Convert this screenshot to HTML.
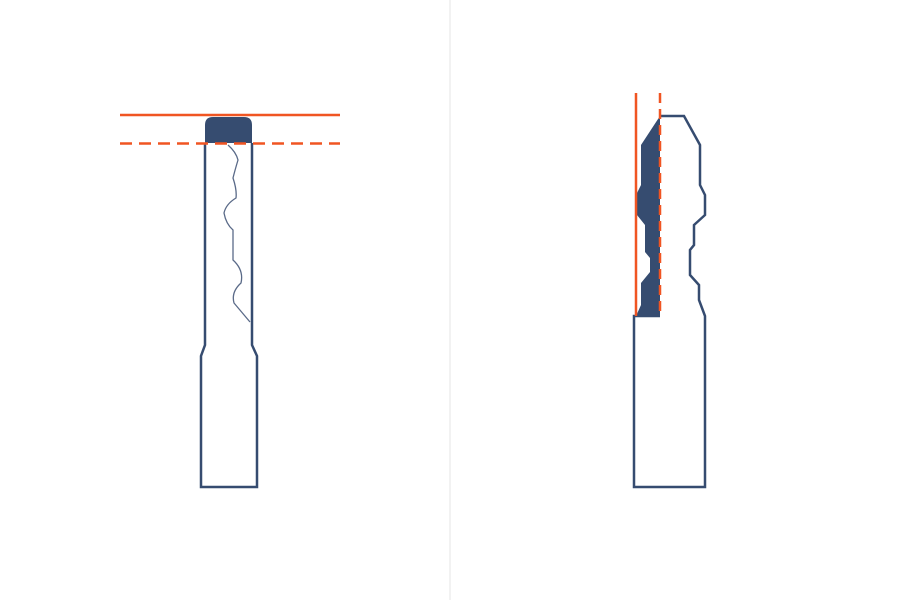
<!DOCTYPE html>
<html><head><meta charset="utf-8"><style>body{margin:0;background:#fff}svg{display:block}</style></head>
<body>
<svg width="900" height="600" viewBox="0 0 900 600">
<line x1="450" y1="0" x2="450" y2="600" stroke="#e6e6e6" stroke-width="1"/>
<g fill="none" stroke="#364c70" stroke-width="2.5">
<path d="M205,143 L205,345 L201,356 L201,487 L257,487 L257,356 L252,345 L252,143"/>
<path d="M205,143 L205,125 Q205,117 213,117 L244,117 Q252,117 252,125 L252,143 Z" fill="#364c70" stroke="none"/>
<path d="M228,145 Q236,152 238,160 Q235,170 233,178 Q237,190 236,198 Q226,204 224,213 Q226,224 233,230 L233,260 Q244,270 241,283 Q231,292 234,303 L250,322" stroke-width="1.3" stroke="#5a6a88"/>
</g>
<line x1="120" y1="115" x2="340" y2="115" stroke="#f05522" stroke-width="2.5"/>
<line x1="120" y1="143.5" x2="340" y2="143.5" stroke="#f05522" stroke-width="2.5" stroke-dasharray="12,7"/>
<g>
<path d="M660,116 L641,145 L641,185 L637,193 L637,215 L645,225 L645,252 L650,258 L650,272 L641,283 L641,305 L636,316 L660,316 Z" fill="#364c70"/>
<path d="M660,116 L684,116 L700,145 L700,185 L705,195 L705,215 L694,225 L694,245 L690,250 L690,275 L699,285 L699,300 L705,316 L705,487 L634,487 L634,316 L660,316" fill="none" stroke="#364c70" stroke-width="2.5"/>
</g>
<line x1="636" y1="93" x2="636" y2="316" stroke="#f05522" stroke-width="2.5"/>
<line x1="660" y1="93" x2="660" y2="316" stroke="#f05522" stroke-width="2.5" stroke-dasharray="10,6"/>
</svg>
</body></html>
